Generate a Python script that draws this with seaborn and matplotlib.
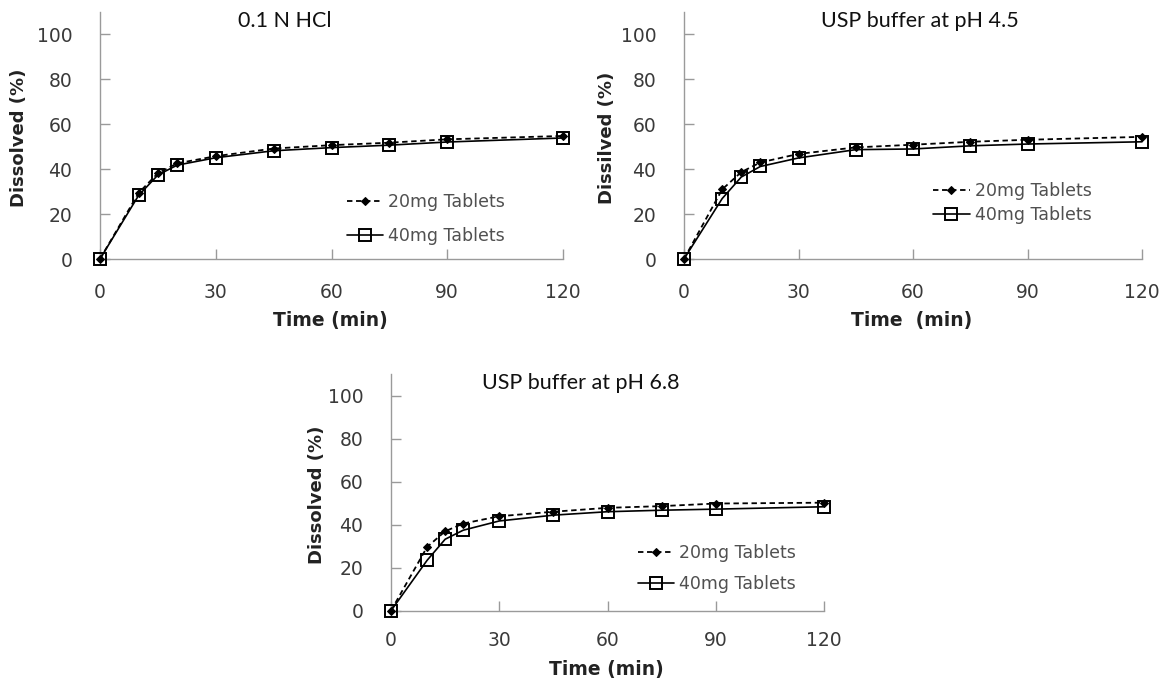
import matplotlib
matplotlib.use("Agg")
import matplotlib.pyplot as plt
import seaborn as sns
import pandas as pd

# ---- data ----
time_min = [0, 10, 15, 20, 30, 45, 60, 75, 90, 120]

hcl_20mg = [0, 29.4, 38.2, 42.6, 45.8, 49.2, 50.7, 51.8, 53.3, 54.8]
hcl_40mg = [0, 28.3, 37.4, 41.8, 45.1, 48.2, 49.6, 50.7, 52.1, 53.9]

ph45_20mg = [0, 31.0, 38.7, 43.0, 46.8, 49.7, 50.9, 52.2, 53.1, 54.4]
ph45_40mg = [0, 26.9, 36.5, 41.2, 45.0, 48.7, 49.0, 50.4, 51.2, 52.2]

ph68_20mg = [0, 29.6, 36.9, 40.5, 43.9, 46.0, 47.8, 48.6, 49.8, 50.2]
ph68_40mg = [0, 23.4, 33.2, 37.4, 41.7, 44.4, 46.0, 46.7, 47.2, 48.3]

titles = ["0.1 N HCl", "USP buffer at pH 4.5", "USP buffer at pH 6.8"]
ylabels = ["Dissolved (%)", "Dissilved (%)", "Dissolved (%)"]
xlabels = ["Time (min)", "Time  (min)", "Time (min)"]
series_labels = ["20mg Tablets", "40mg Tablets"]
xticks = [0, 30, 60, 90, 120]
yticks = [0, 20, 40, 60, 80, 100]

sns.set_style("white")
plt.rcParams["font.family"] = ["DejaVu Sans"]

fig = plt.figure(figsize=(11.66, 6.81), dpi=100)

W, H = 1166, 681
def frac(left, right, top, bottom):
    return [left / W, 1 - bottom / H, (right - left) / W, (bottom - top) / H]

axes = [
    fig.add_axes(frac(100, 563, 12, 259)),
    fig.add_axes(frac(684, 1142, 12, 259)),
    fig.add_axes(frac(391, 824, 374, 610.7)),
]

datasets = [(hcl_20mg, hcl_40mg), (ph45_20mg, ph45_40mg), (ph68_20mg, ph68_40mg)]
title_pos = [(0.40, 0.964), (0.515, 0.964), (0.439, 0.962)]
legend_pos = [(0.533, 0.162, 0.9), (0.544, 0.227, 0.33), (0.570, 0.178, 0.74)]
ylab_x = [-0.175, -0.168, -0.171]
xpad = [17, 17, 14.5]

grey = "#9a9a9a"
for i, ax in enumerate(axes):
    d20, d40 = datasets[i]
    df20 = pd.DataFrame({"t": time_min, "v": d20})
    df40 = pd.DataFrame({"t": time_min, "v": d40})
    sns.lineplot(data=df20, x="t", y="v", ax=ax, color="black", linestyle=(0, (3, 2)),
                 linewidth=1.3, marker="D", markersize=4.5, markerfacecolor="black",
                 markeredgecolor="black", label=series_labels[0], clip_on=False, zorder=3)
    sns.lineplot(data=df40, x="t", y="v", ax=ax, color="black", linestyle="-",
                 linewidth=1.2, marker="s", markersize=9, markerfacecolor="none",
                 markeredgecolor="black", markeredgewidth=1.4, label=series_labels[1],
                 clip_on=False, zorder=4)
    ax.set_xlim(0, 120)
    ax.set_ylim(0, 110)
    ax.set_xticks(xticks)
    ax.set_yticks(yticks)
    for s in ["top", "right"]:
        ax.spines[s].set_visible(False)
    for s in ["left", "bottom"]:
        ax.spines[s].set_color(grey)
        ax.spines[s].set_linewidth(1.0)
    ax.tick_params(axis="both", direction="in", length=7, width=1.0, color=grey,
                   labelsize=13.5, labelcolor="#3a3a3a", bottom=True, left=True)
    ax.tick_params(axis="y", pad=20)
    ax.tick_params(axis="x", pad=xpad[i])

    ax.set_xlabel(xlabels[i], fontsize=13.5, fontweight="bold", color="#222222")
    ax.xaxis.label.set_va("center")
    ax.xaxis.set_label_coords(0.497, -0.25)
    ax.set_ylabel(ylabels[i], fontsize=13, fontweight="bold", color="#222222")
    ax.yaxis.label.set_va("center")
    ax.yaxis.set_label_coords(ylab_x[i], 0.49)

    tx, ty = title_pos[i]
    ax.text(tx, ty, titles[i], transform=ax.transAxes, ha="center", va="center",
            fontsize=15.5, color="#111111", family=["Lato", "DejaVu Sans"])

    lx, ly, ls = legend_pos[i]
    leg = ax.legend(loc="center left", bbox_to_anchor=(lx, ly), frameon=False,
                    fontsize=12.5, handlelength=2.1, handletextpad=0.3,
                    labelspacing=ls, borderpad=0, borderaxespad=0)
    for t in leg.get_texts():
        t.set_color("#505050")

fig.savefig("out.png", dpi=100, facecolor="white")
